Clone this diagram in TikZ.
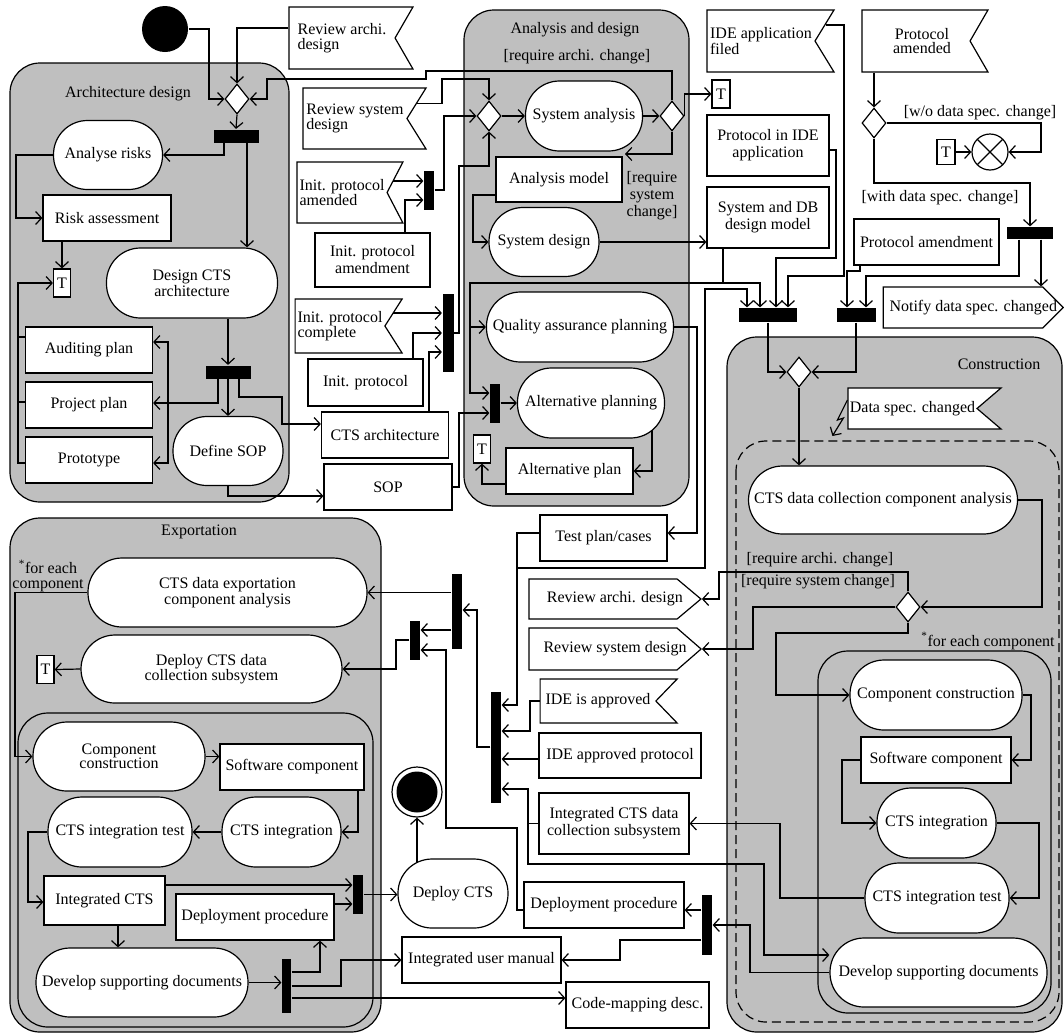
\documentclass[tikz,border=0pt]{standalone}
\usepackage{fontspec}
\setmainfont{Liberation Serif}
\usepackage{tikz}
\usetikzlibrary{arrows.meta,shapes.geometric,shapes.symbols}
\tikzset{
    act-node/.style = {draw, fill=white, rectangle, rounded corners=34pt, minimum height=69pt, inner sep=2pt, align=center, font=\fontsize{16}{14}\selectfont},
    obj-node/.style = {draw, fill=white, rectangle, minimum height=46pt, inner sep=2pt, align=center, font=\fontsize{16}{17}\selectfont},
    recv-node/.style = {draw, fill=white, signal, signal to=nowhere, signal from=east, inner xsep=0pt, inner ysep=2pt, align=left, font=\fontsize{16}{14.5}\selectfont},
    send-node/.style = {draw, fill=white, signal, signal to=east, inner xsep=0pt, inner ysep=2pt, font=\fontsize{16}{14.5}\selectfont},
    bar-node/.style = {fill=black, rectangle, inner sep=0pt},
    dec-node/.style = {draw, fill=white, diamond, minimum width=24pt, minimum height=30pt, inner sep=0pt},
    t-node/.style = {draw, fill=white, rectangle, minimum width=17pt, minimum height=28pt, inner sep=0pt, font=\fontsize{16}{14}\selectfont},
    region-box/.style = {draw, fill=black!25, rounded corners=30pt},
    guard-label/.style = {font=\fontsize{16}{17}\selectfont, align=center, inner sep=0pt},
    flow/.style = {-{Straight Barb[length=6pt,width=13pt]}},
}

\begin{document}
\begin{tikzpicture}[x=1pt, y=-1pt, line width=1.2pt]
\useasboundingbox (0,0) rectangle (1064,1034);
\draw [region-box] (10,63) rectangle (289,502);
\draw [region-box] (464,10) rectangle (689,506);
\draw [region-box] (727,337) rectangle (1062,1032);
\draw [region-box] (10,518) rectangle (381,1032);
\draw [dash pattern=on 9pt off 5pt, rounded corners=30pt] (736,441) rectangle (1059,1022);
\draw [rounded corners=30pt] (818,651) rectangle (1051,1013);
\draw [rounded corners=30pt] (18,713) rectangle (373,1027);

\node [guard-label] (arch-title) at (128,94) {Architecture design};
\node [guard-label] (ad-title) at (575,30) {Analysis and design};
\node [guard-label] (guard-a) at (577,57) {[require archi. change]};
\node [guard-label] (guard-b) at (652,196) {[require\\system\\change]};
\node [guard-label] (guard-c) at (980,113) {[w/o data spec. change]};
\node [guard-label] (guard-d) at (940,198) {[with data spec. change]};
\node [guard-label, anchor=east] (con-title) at (1041,364) {Construction};
\node [guard-label] (guard-e) at (820,560) {[require archi. change]};
\node [guard-label] (guard-f) at (818,582) {[require system change]};
\node [guard-label] (guard-g) at (988,641) {\textsuperscript{*}for each component};
\node [guard-label] (exp-title) at (199,532) {Exportation};
\node [guard-label, font=\fontsize{16}{14.5}\selectfont] (guard-h) at (48,576) {\textsuperscript{*}for each\\component};

\node [circle, fill=black, minimum size=46pt, inner sep=0pt] (start) at (165,29) {};
\node [recv-node, signal pointer angle=120, minimum width=124pt, minimum height=62pt] (sig-rad) at (342,38) {Review archi.\\design};
\node [dec-node] (dec-a) at (237,99) {};
\node [bar-node, minimum width=45pt, minimum height=13pt] (bar-a) at (236,136) {};
\node [act-node, minimum width=109pt] (act-risk) at (108,155) {Analyse risks};
\node [obj-node, minimum width=128pt] (obj-risk) at (107,218) {Risk assessment};
\node [t-node] (t-arch) at (62,283) {T};
\node [act-node, minimum width=171pt, minimum height=70pt] (act-design) at (192,283) {Design CTS\\architecture};
\node [bar-node, minimum width=45pt, minimum height=13pt] (bar-b) at (228,372) {};
\node [obj-node, minimum width=127pt] (obj-audit) at (89,350) {Auditing plan};
\node [obj-node, minimum width=127pt] (obj-proj) at (89,405) {Project plan};
\node [obj-node, minimum width=127pt] (obj-proto) at (89,460) {Prototype};
\node [act-node, minimum width=110pt] (act-sop) at (228,451) {Define SOP};
\node [obj-node, minimum width=127pt] (obj-ctsarch) at (385,435) {CTS architecture};
\node [obj-node, minimum width=128pt] (obj-sop) at (388,487) {SOP};

\node [recv-node, signal pointer angle=116, minimum width=123pt, minimum height=61pt] (sig-rsd) at (355,118.5) {Review system\\design};
\node [recv-node, signal pointer angle=125, minimum width=106pt, minimum height=61pt] (sig-ipa) at (342,192.5) {Init. protocol\\amended};
\node [bar-node, minimum width=10pt, minimum height=39pt] (bar-c) at (429,190) {};
\node [obj-node, minimum width=115pt, minimum height=54pt] (obj-ipam) at (372.5,260) {Init. protocol\\amendment};
\node [recv-node, signal pointer angle=115, minimum width=107pt, minimum height=54pt] (sig-ipc) at (340,326) {Init. protocol\\complete};
\node [obj-node, minimum width=115pt, minimum height=47pt] (obj-ip) at (365.5,382.5) {Init. protocol};
\node [bar-node, minimum width=11pt, minimum height=78pt] (bar-d) at (448,333) {};

\node [dec-node] (dec-b) at (489,116) {};
\node [act-node, minimum width=117pt, minimum height=70pt] (act-sysan) at (584,116) {System analysis};
\node [dec-node] (dec-c) at (672,116) {};
\node [t-node, minimum width=18pt] (t-sys) at (721,94) {T};
\node [obj-node, minimum width=126pt, minimum height=45pt] (obj-anmodel) at (559,179.5) {Analysis model};
\node [act-node, minimum width=110pt] (act-sysdes) at (544,242) {System design};
\node [act-node, minimum width=187pt, minimum height=70pt] (act-qa) at (580,327) {Quality assurance planning};
\node [bar-node, minimum width=10pt, minimum height=39pt] (bar-e) at (495,403) {};
\node [act-node, minimum width=147pt, minimum height=70pt] (act-alt) at (591,403) {Alternative planning};
\node [obj-node, minimum width=127pt] (obj-alt) at (569.5,471) {Alternative plan};
\node [t-node] (t-alt) at (482,449) {T};

\node [recv-node, signal pointer angle=117, minimum width=127pt, minimum height=62pt] (sig-ide) at (761,41) {IDE application\\filed};
\node [obj-node, minimum width=122pt, minimum height=61pt] (obj-pide) at (768,145.5) {Protocol in IDE\\application};
\node [obj-node, minimum width=122pt, minimum height=61pt] (obj-sysdb) at (768,217.5) {System and DB\\design model};
\node [bar-node, minimum width=58pt, minimum height=14pt] (bar-f) at (768,315) {};
\node [recv-node, signal pointer angle=120, align=center, minimum width=126pt, minimum height=62pt] (sig-pam) at (916,41) {\hspace*{12pt}Protocol\\\hspace*{12pt}amended};
\node [dec-node] (dec-d) at (874,123) {};
\node [circle, draw, fill=white, minimum size=36pt, inner sep=0pt, path picture={\draw (path picture bounding box.south west) -- (path picture bounding box.north east) (path picture bounding box.north west) -- (path picture bounding box.south east);}] (flow-end) at (990,152) {};
\node [t-node, minimum width=18pt, minimum height=25pt] (t-flow) at (946,152) {T};
\node [bar-node, minimum width=46pt, minimum height=12pt] (bar-g) at (1030,233) {};
\node [obj-node, minimum width=145pt] (obj-pamd) at (926.5,242) {Protocol amendment};
\node [bar-node, minimum width=39pt, minimum height=14pt] (bar-h) at (856,315) {};
\node [send-node, signal pointer angle=90, minimum width=180pt, minimum height=41pt] (sig-notify) at (963,307.5) {\makebox[0pt]{\hspace*{20.5pt}Notify data spec. changed}};

\node [dec-node] (dec-e) at (799,372) {};
\node [recv-node, signal pointer angle=81, minimum width=153pt, minimum height=41pt] (sig-dsc) at (912.5,408.5) {Data spec. changed};
\node [act-node, minimum width=269pt, minimum height=68pt] (act-ccca) at (883,500) {CTS data collection component analysis};
\node [dec-node] (dec-f) at (908,607) {};
\node [send-node, signal pointer angle=80, minimum width=172pt, minimum height=40pt] (sig-rad2) at (603,599) {\makebox[0pt]{\hspace*{23.8pt}Review archi. design}};
\node [send-node, signal pointer angle=82, minimum width=172pt, minimum height=42pt] (sig-rsd2) at (603,649) {\makebox[0pt]{\hspace*{24.2pt}Review system design}};
\node [act-node, minimum width=172pt, minimum height=70pt] (act-cc2) at (936,695) {Component construction};
\node [obj-node, minimum width=150pt] (obj-sw2) at (936,760) {Software component};
\node [act-node, minimum width=119pt, minimum height=70pt] (act-int2) at (936.5,823) {CTS integration};
\node [act-node, minimum width=144pt, minimum height=70pt] (act-test2) at (937,898) {CTS integration test};
\node [act-node, minimum width=217pt] (act-doc2) at (938.5,972.5) {Develop supporting documents};

\node [obj-node, minimum width=127pt] (obj-test) at (603.5,538) {Test plan/cases};
\node [bar-node, minimum width=10pt, minimum height=111pt] (bar-i) at (496,747) {};
\node [recv-node, signal pointer angle=92, minimum width=137pt, minimum height=44pt] (sig-ideok) at (598,701) {IDE is approved};
\node [obj-node, minimum width=162pt, minimum height=45pt] (obj-ideprot) at (620,755.5) {IDE approved protocol};
\node [obj-node, minimum width=150pt, minimum height=61pt] (obj-intsub) at (614,823.5) {Integrated CTS data\\collection subsystem};
\node [bar-node, minimum width=10pt, minimum height=75pt] (bar-j) at (457,611) {};
\node [bar-node, minimum width=10pt, minimum height=39pt] (bar-k) at (415,640) {};
\node [bar-node, minimum width=10pt, minimum height=60pt] (bar-l) at (707,925) {};
\node [obj-node, minimum width=160pt] (obj-dep2) at (604,905) {Deployment procedure};
\node [obj-node, minimum width=159pt] (obj-ium) at (481.5,960) {Integrated user manual};
\node [obj-node, minimum width=143pt] (obj-cmd) at (637.5,1005) {Code-mapping desc.};
\node [act-node, minimum width=110pt] (act-depcts) at (453,893.5) {Deploy CTS};
\node [circle, draw, fill=white, minimum size=50pt, inner sep=0pt, path picture={\fill [black] (path picture bounding box.center) circle (20.5pt);}] (end) at (417,792) {};

\node [act-node, minimum width=279pt] (act-exp) at (227.5,592.5) {CTS data exportation\\component analysis};
\node [act-node, minimum width=261pt, minimum height=68pt] (act-depsub) at (211.5,669) {Deploy CTS data\\collection subsystem};
\node [t-node] (t-exp) at (45.5,669.5) {T};
\node [act-node, minimum width=172pt] (act-cc1) at (119,756.5) {Component\\construction};
\node [obj-node, minimum width=144pt] (obj-sw1) at (292,767) {Software component};
\node [act-node, minimum width=119pt, minimum height=70pt] (act-int1) at (281.5,832) {CTS integration};
\node [act-node, minimum width=144pt, minimum height=70pt] (act-test1) at (120,832) {CTS integration test};
\node [obj-node, minimum width=121pt, minimum height=49pt] (obj-intcts) at (104.5,900.5) {Integrated CTS};
\node [bar-node, minimum width=10pt, minimum height=39pt] (bar-m) at (358,894.5) {};
\node [obj-node, minimum width=158pt] (obj-dep1) at (255,917) {Deployment procedure};
\node [act-node, minimum width=212pt] (act-doc1) at (142,982.5) {Develop supporting documents};
\node [bar-node, minimum width=9pt, minimum height=54pt] (bar-n) at (286.5,986) {};

\draw [flow] (start.east) -| (209,99) -- (dec-a.west);
\draw [flow] (sig-rad.west |- 0,28) -| (dec-a.north);
\draw [flow] (dec-c.north) |- (426,71) |- (267,79) |- (dec-a.east);
\draw [flow] (dec-a.south) -- (bar-a.north);
\draw [flow] (bar-a.south -| 224,0) |- (act-risk.east);
\draw [flow] (bar-a.south -| 247,0) -- (act-design.north -| 247,0);
\draw [flow] (act-risk.west) -| (16,218) -- (obj-risk.west);
\draw [flow] (obj-risk.south -| t-arch.north) -- (t-arch.north);
\draw [flow] (obj-proto.west |- 0,463) -| (18,283) -- (t-arch.west);
\draw (obj-audit.west |- 0,337) -- (18,337);
\draw (obj-proj.west |- 0,402) -- (18,402);
\draw [flow] (act-design.south -| bar-b.north) -- (bar-b.north);
\draw [flow] (bar-b.south -| 218,0) |- (obj-proj.east |- 0,403);
\draw [flow] (168,403) |- (obj-audit.east |- 0,342);
\draw [flow] (168,403) |- (obj-proto.east |- 0,463);
\draw [flow] (bar-b.south) -- (act-sop.north);
\draw [flow] (bar-b.south -| 239,0) |- (282,397) |- (obj-ctsarch.west |- 0,424);
\draw [flow] (act-sop.south) |- (obj-sop.west |- 0,496);

\draw [flow] ([shift={(61.5,-15)}]sig-rsd.center) -| (442,79) -| (dec-b.north);
\draw [flow] ([shift={(51,-11.5)}]sig-ipa.center) -- (bar-c.west |- 0,181);
\draw [flow] (obj-ipam.north -| 405,0) |- (bar-c.west |- 0,200);
\draw [flow] (bar-c.east) -| (444,116) -- (dec-b.west);
\draw [flow] ([shift={(53,-13)}]sig-ipc.center) -- (bar-d.west |- 0,313);
\draw [flow] (obj-ip.north -| 413,0) |- (bar-d.west);
\draw [flow] (obj-ctsarch.north -| 429,0) |- (bar-d.west |- 0,352);
\draw [flow] (bar-d.east) -| (459,166) -| (dec-b.south);
\draw [flow] (dec-b.east) -- (act-sysan.west);
\draw [flow] (act-sysan.east) -- (dec-c.west);
\draw [flow] (dec-c.east) |- (t-sys.west);
\draw [flow] (dec-c.south) |- ([shift={(41,38)}]act-sysan.center);
\draw [flow] (obj-anmodel.west |- 0,195) -| (473,242) -- (act-sysdes.west);
\draw [flow] (act-sysdes.east) -- (act-sysdes.east -| obj-sysdb.west);
\draw [flow] (obj-sysdb.south -| 723,0) |- (470,283) |- (act-qa.west);
\draw [flow] (470,327) |- (bar-e.west |- 0,393);
\draw [flow] (723,283) -| (bar-f.north -| 760,0);
\draw [flow] (obj-sop.east) -| (459,413) -- (bar-e.west |- 0,413);
\draw [flow] (bar-e.east) -- (act-alt.west);
\draw [flow] ([shift={(61,27)}]act-alt.center) |- (obj-alt.east);
\draw [flow] (obj-alt.west |- 0,484) -| (t-alt.south);

\draw [flow] ([shift={(65,-16)}]sig-ide.center) -| (844,276) -| (bar-f.north -| 788,0);
\draw [flow] (obj-pide.east |- 0,150) -| (836,258) -| (bar-f.north -| 776,0);
\draw [flow] (obj-test.west |- 0,533) -| (517,705) -- (bar-i.east |- 0,705);
\draw [flow] (517,568) -| (705,289) -| (bar-f.north -| 747,0);
\draw [flow] (sig-pam.south -| dec-d.north) -- (dec-d.north);
\draw [flow] (dec-d.east) -| (1041,152) -- (flow-end.east);
\draw [flow] (t-flow.east) -- (flow-end.west);
\draw [flow] (dec-d.south) |- (bar-g.north |- 0,183) -- (bar-g.north);
\draw [flow] (bar-g.south -| 1019,0) |- (866,276) -- (bar-h.north -| 866,0);
\draw [flow] (bar-g.south -| 1041,0) -- (sig-notify.north -| 1041,0);
\draw [flow] (obj-pamd.south -| 860,0) |- (847,271) -- (bar-h.north -| 847,0);
\draw [flow] (bar-f.south) |- (dec-e.west);
\draw [flow] (bar-h.south) |- (dec-e.east);
\draw [flow] (dec-e.south) -- (dec-e.south |- act-ccca.north);
\draw [flow] (sig-dsc.west |- 0,400) -- ++(-10,20) -- ++(6,-2) -- ++(-11,18);

\draw [flow] (act-ccca.east) -| (1042,607) -- (dec-f.east);
\draw [flow] (dec-f.north) |- (719,572) |- (sig-rad2.east);
\draw [flow] (dec-f.west) -| (753,649) -- (sig-rsd2.east);
\draw [flow] (dec-f.south) |- (776,633) |- (act-cc2.west);
\draw [flow] (act-cc2.east) -| (1031,760) -- (obj-sw2.east);
\draw [flow] (obj-sw2.west) -| (842,823) -- (act-int2.west);
\draw [flow] (act-int2.east) -| (1039,898) -- (act-test2.east);
\draw [flow] (act-test2.west) -| (780,823.5) -- (obj-intsub.east);
\draw [flow] (obj-intsub.west) -| (528,789) -- (bar-i.east |- 0,789);
\draw [flow] (528,823.5) |- (764,864) |- (act-doc2.west |- 0,955);
\draw [flow] (act-doc2.west) -| (750,925) -- (bar-l.east);
\draw [flow] (bar-l.west |- 0,910) -- (obj-dep2.east |- 0,910);
\draw [flow] (bar-l.west |- 0,940) -| (620,960) -- (obj-ium.east);
\draw [flow] (obj-dep2.west |- 0,910) -| (517,828) -| (446,650) -- (bar-k.east |- 0,650);
\draw [flow] (bar-i.west) -| (477,610) -- (bar-j.east |- 0,610);
\draw [flow] (bar-j.west |- act-exp.east) -- (act-exp.east);
\draw [flow] (bar-j.west |- 0,630) -- (bar-k.east |- 0,630);
\draw [flow] (bar-k.west) -| (396,669) -- (act-depsub.east);
\draw [flow] (sig-ideok.west) -| (530,731) -- (bar-i.east |- 0,731);
\draw [flow] (obj-ideprot.west |- 0,759) -- (bar-i.east |- 0,759);
\draw [flow] (act-qa.east) -| (697,533) -- (obj-test.east |- 0,533);

\draw [flow] (act-exp.west) -| (15,756.5) -- (act-cc1.west);
\draw [flow] (act-depsub.west) -- (t-exp.east);
\draw [flow] (act-cc1.east) -- (act-cc1.east -| obj-sw1.west);
\draw [flow] (obj-sw1.south -| 358,0) |- (act-int1.east);
\draw [flow] (act-int1.west) -- (act-test1.east);
\draw [flow] (act-test1.west) -| (28,902) -- (obj-intcts.west |- 0,902);
\draw [flow] (obj-intcts.east |- 0,885) -- (bar-m.west |- 0,885);
\draw [flow] (obj-dep1.east |- 0,904) -- (bar-m.west |- 0,904);
\draw [flow] (bar-m.east) -- (bar-m.east -| act-depcts.west);
\draw [flow] (end.south |- 0,863) -- (end.south);
\draw [flow] (obj-intcts.south -| 118,0) -- (act-doc1.north -| 118,0);
\draw [flow] (act-doc1.east) -- (act-doc1.east -| bar-n.west);
\draw [flow] (bar-n.east |- 0,972) -| (obj-dep1.south -| 320,0);
\draw [flow] (bar-n.east) -| (341,960) -- (obj-ium.west);
\draw [flow] (bar-n.east |- 0,998) -- (obj-cmd.west |- 0,998);
\end{tikzpicture}
\end{document}
